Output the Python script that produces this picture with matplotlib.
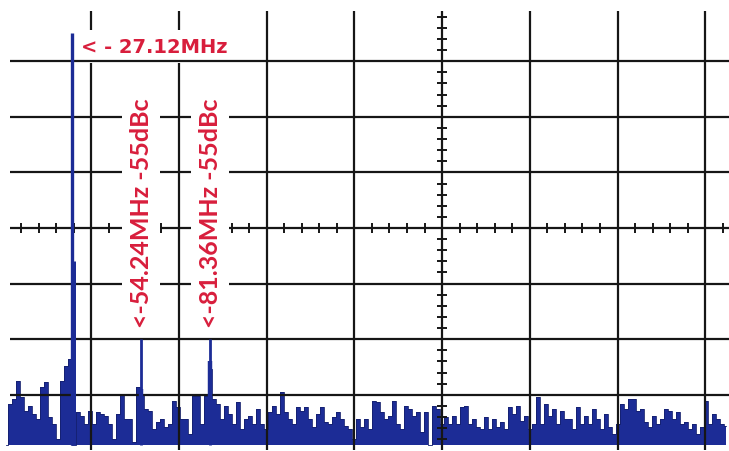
import numpy as np
import matplotlib
matplotlib.use("Agg")
import matplotlib.pyplot as plt

# Analyzer settings
ref_level_db = 0.0          # top graticule line
db_per_div = 10.0
n_ydiv = 8
mhz_per_div = 34.5
start_mhz = 0.0
visible_xdiv = 8.27

# Carrier and harmonics
carrier_mhz = 27.12
carrier_db = -5.0
carrier_skirt_db = -46.0
harmonic_mhz = [54.24, 81.36]
harmonic_dbc = [-55.0, -55.0]
harmonic_skirt_db = [-69.0, -64.0]

# Trace floor and sampled noise levels (dB) across the visible span
floor_db = -79.0
noise_span_mhz = [0.98, 284.2]
noise_db = [
    -79.0, -71.7, -70.8, -67.5, -70.4, -72.9, -72.0, -73.5, -74.3, -68.6,
    -67.7, -74.0, -75.3, -78.0, -67.5, -64.8, -63.6, -79.0, -73.1, -73.8,
    -75.3, -72.9, -75.3, -73.1, -73.5, -73.8, -75.3, -78.0, -73.5, -69.9,
    -74.3, -74.3, -78.5, -68.6, -69.9, -72.5, -72.9, -76.2, -74.9, -74.3,
    -75.8, -75.3, -71.1, -72.2, -74.3, -74.3, -77.0, -70.2, -70.2, -75.3,
    -70.2, -65.4, -70.8, -71.7, -74.3, -72.0, -73.5, -75.3, -71.3, -76.2,
    -74.3, -73.8, -75.3, -72.5, -75.3, -76.2, -73.1, -72.0, -73.5, -69.5,
    -73.1, -74.3, -75.3, -72.2, -72.9, -72.2, -74.3, -75.8, -73.5, -72.2,
    -74.9, -75.3, -74.0, -73.1, -74.3, -75.6, -76.2, -78.0, -74.3, -75.8,
    -74.3, -76.2, -71.1, -71.3, -73.1, -74.3, -73.8, -71.1, -75.3, -76.2,
    -72.0, -72.5, -73.8, -73.1, -76.7, -73.1, -79.0, -72.0, -72.5, -75.3,
    -74.0, -75.3, -73.8, -75.3, -72.2, -72.0, -75.3, -74.3, -75.8, -76.2,
    -74.0, -76.2, -74.3, -75.8, -74.9, -76.2, -72.2, -73.5, -72.0, -74.7,
    -73.8, -76.2, -75.3, -70.4, -75.3, -71.7, -73.8, -72.5, -75.3, -72.9,
    -74.3, -74.3, -76.2, -72.2, -75.3, -73.8, -75.3, -72.5, -74.3, -76.2,
    -73.5, -75.8, -77.0, -75.3, -71.7, -72.5, -70.8, -70.8, -72.9, -72.5,
    -74.9, -75.8, -73.8, -75.3, -74.3, -72.5, -72.9, -74.3, -73.1, -75.3,
    -74.9, -76.2, -75.3, -77.0, -75.8, -71.1, -75.3, -73.5, -74.3, -75.3,
    -75.6,
]

carrier_label = "< - 27.12MHz"
harmonic_labels = ["<-54.24MHz -55dBc", "<-81.36MHz -55dBc"]

TRACE = "#1c2c96"
GRID = "#161616"
RED = "#d81e3c"

W, H = 729, 452
fig = plt.figure(figsize=(W / 100, H / 100), dpi=100)
fig.patch.set_facecolor("white")

# Screen geometry of the graticule (pixels)
left_px, top_px, bottom_px = 3.5, 6.6, 451.4
ax = fig.add_axes([left_px / W, (H - bottom_px) / H,
                   (W - left_px) / W, (bottom_px - top_px) / H])
x_max = start_mhz + visible_xdiv * mhz_per_div
y_min = ref_level_db - n_ydiv * db_per_div
ax.set_xlim(start_mhz, x_max)
ax.set_ylim(y_min, ref_level_db)
ax.axis("off")

# Noise floor trace
freqs = np.linspace(noise_span_mhz[0], noise_span_mhz[1], len(noise_db))
ax.fill_between(freqs, noise_db, floor_db, step="mid", color=TRACE,
                linewidth=0, zorder=1)
ax.step(freqs, noise_db, where="mid", color="#14206e", linewidth=0.6, zorder=1)

# Graticule
div_db = [ref_level_db - k * db_per_div for k in range(1, n_ydiv)]
div_mhz = [start_mhz + k * mhz_per_div for k in range(1, 9)]
px_db = db_per_div / (bottom_px - top_px) * n_ydiv
px_mhz = mhz_per_div / 87.7
ax.vlines(div_mhz, y_min, ref_level_db - 5.4 * px_db, color=GRID, lw=1.6, zorder=2)
ax.hlines(div_db, start_mhz + 6.5 * px_mhz, x_max, color=GRID, lw=1.6, zorder=3)

# Minor ticks on the centre cross
center_db = ref_level_db - n_ydiv / 2 * db_per_div
center_mhz = start_mhz + 5 * mhz_per_div
tx = np.arange(start_mhz + mhz_per_div / 5, x_max, mhz_per_div / 5)
ax.vlines(tx, center_db - 5 * px_db, center_db + 5 * px_db, color=GRID, lw=1.4, zorder=3)
ty = np.arange(y_min + db_per_div / 5, ref_level_db - 1.5, db_per_div / 5)
ax.hlines(ty, center_mhz - 5 * px_mhz, center_mhz + 5 * px_mhz, color=GRID, lw=1.4, zorder=3)

# Carrier and harmonic spikes
ax.vlines([carrier_mhz], floor_db, carrier_db, color=TRACE, lw=2.4, zorder=5)
ax.vlines([carrier_mhz + 0.25], floor_db, carrier_skirt_db, color=TRACE, lw=3.6, zorder=5)
harm_db = [carrier_db + d for d in harmonic_dbc]
ax.vlines(harmonic_mhz, floor_db, harm_db, color=TRACE, lw=2.0, zorder=5)
ax.vlines(harmonic_mhz, floor_db, harmonic_skirt_db, color=TRACE, lw=3.2, zorder=5)

# Annotations
ax.text(carrier_mhz + 3.4, carrier_db - 3.3, carrier_label, fontsize=14,
        family=["DejaVu Sans"], weight="bold", color=RED,
        ha="left", va="baseline", zorder=2.5,
        bbox=dict(boxstyle="square,pad=0.35", fc="white", ec="none"))
for f, d, lab in zip(harmonic_mhz, harm_db, harmonic_labels):
    ax.text(f, d + 2.2, lab, fontsize=18, rotation=90, ha="center",
            va="bottom", zorder=4,
            family=["Lato", "DejaVu Sans"], weight="bold", color=RED,
            bbox=dict(boxstyle="square,pad=0.3", fc="white", ec="none"))

fig.savefig("out.png", dpi=100)
